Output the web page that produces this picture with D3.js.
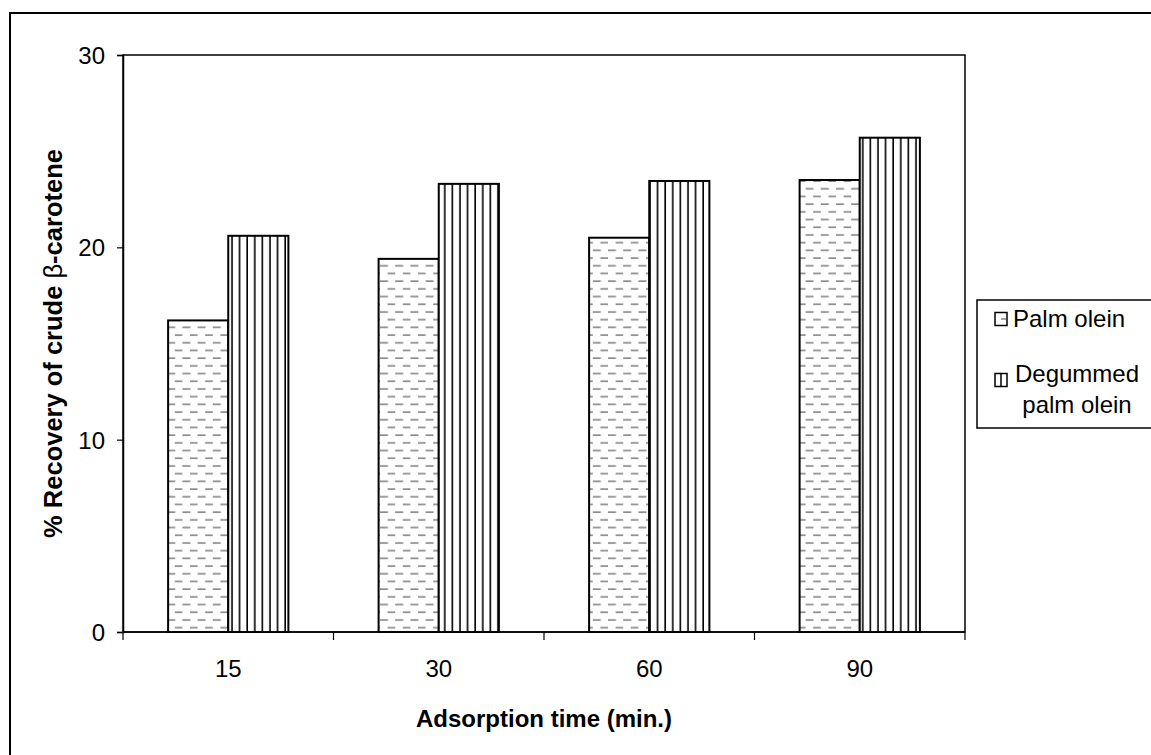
<!DOCTYPE html>
<html><head><meta charset="utf-8">
<script src="https://cdn.jsdelivr.net/npm/d3@7"></script>
<style>body{margin:0;background:#fff}svg{display:block}text{font-family:"Liberation Sans",Arial,sans-serif}</style>
</head><body><svg id="c" width="1151" height="755"></svg>
<script>
const categories = ["15", "30", "60", "90"];
const seriesNames = ["Palm olein", "Degummed palm olein"];
const palmOlein = [16.2, 19.4, 20.5, 23.5];
const degummed = [20.6, 23.3, 23.45, 25.7];
const yTicks = [0, 10, 20, 30];

const svg = d3.select("#c");
const L = 123, R = 965, T = 55, B = 632;

const defs = svg.append("defs");
const pDash = defs.append("pattern").attr("id","dash").attr("patternUnits","userSpaceOnUse")
  .attr("width",15.2).attr("height",15.4);
pDash.append("rect").attr("width",15.2).attr("height",15.4).attr("fill","#fff");
pDash.append("line").attr("x1",0).attr("x2",8).attr("y1",4).attr("y2",4).attr("stroke","#8c8c8c").attr("stroke-width",1.7);
pDash.append("line").attr("x1",7.6).attr("x2",15.6).attr("y1",11.7).attr("y2",11.7).attr("stroke","#8c8c8c").attr("stroke-width",1.7);
const pVert = defs.append("pattern").attr("id","vert").attr("patternUnits","userSpaceOnUse")
  .attr("width",7.6).attr("height",10).attr("x",1);
pVert.append("rect").attr("width",7.6).attr("height",10).attr("fill","#fff");
pVert.append("line").attr("x1",3).attr("x2",3).attr("y1",0).attr("y2",10).attr("stroke","#000").attr("stroke-width",1.6);

// outer frame
svg.append("rect").attr("x",10).attr("y",13).attr("width",1200).attr("height",800)
  .attr("fill","none").attr("stroke","#000").attr("stroke-width",2);

const x = d3.scaleBand().domain(categories).range([L,R]).paddingInner(0).paddingOuter(0);
const bw = x.bandwidth()/3.5;
const y = d3.scaleLinear().domain([0,30]).range([B,T]);

// plot border
svg.append("rect").attr("x",L).attr("y",T).attr("width",R-L).attr("height",B-T)
  .attr("fill","none").attr("stroke","#000").attr("stroke-width",1.5);

const series = [{vals: palmOlein, fill:"url(#dash)"}, {vals: degummed, fill:"url(#vert)"}];
series.forEach((s,si)=>{
  svg.append("g").selectAll("rect").data(categories).join("rect")
    .attr("x", c => x(c) + x.bandwidth()/2 - bw + si*bw)
    .attr("y", (c,i) => y(s.vals[i]))
    .attr("width", bw)
    .attr("height", (c,i) => B - y(s.vals[i]))
    .attr("fill", s.fill).attr("stroke","#000").attr("stroke-width",2);
});

// y axis
const ya = svg.append("g").attr("transform",`translate(${L},0)`)
  .call(d3.axisLeft(y).tickValues(yTicks).tickSize(6).tickPadding(12));
ya.select(".domain").attr("stroke","#000").attr("stroke-width",1.5);
ya.selectAll(".tick line").attr("stroke","#000").attr("stroke-width",1.2);
ya.selectAll("text").attr("font-size",24).attr("fill","#000").attr("font-family","Liberation Sans, Arial").attr("dy","0.36em");

// x axis with ticks at category boundaries
const xa = svg.append("g").attr("transform",`translate(0,${B})`);
xa.append("line").attr("x1",L).attr("x2",R).attr("stroke","#000").attr("stroke-width",1.5);
const bounds = categories.map(c => x(c)).concat([R]);
xa.selectAll("line.tk").data(bounds).join("line").attr("class","tk")
  .attr("x1",d=>d).attr("x2",d=>d).attr("y1",0).attr("y2",8).attr("stroke","#000").attr("stroke-width",1.2);
xa.selectAll("text").data(categories).join("text")
  .attr("x", c => x(c)+x.bandwidth()/2).attr("y",45)
  .attr("text-anchor","middle").attr("font-size",24).text(c=>c);

// titles
svg.append("text").attr("x",(L+R)/2).attr("y",727).attr("text-anchor","middle")
  .attr("font-size",24).attr("font-weight","bold").text("Adsorption time (min.)");
const yt = svg.append("text").attr("transform",`translate(62,${(T+B)/2}) rotate(-90)`)
  .attr("text-anchor","middle").attr("font-size",25.5).attr("font-weight","bold");
yt.append("tspan").text("% Recovery of crude ");
yt.append("tspan").attr("font-weight","normal").text("β");
yt.append("tspan").text("-carotene");

// legend
const lg = svg.append("g");
lg.append("rect").attr("x",977).attr("y",300).attr("width",200).attr("height",128)
  .attr("fill","#fff").attr("stroke","#000").attr("stroke-width",1.5);
const legY = [319, 380];
seriesNames.forEach((n,i)=>{
  lg.append("rect").attr("x",995).attr("y",legY[i]-6.5).attr("width",12).attr("height",13)
    .attr("fill","#fff").attr("stroke","#000").attr("stroke-width",1.5);
  if(i===0){
    lg.append("line").attr("x1",1001).attr("x2",1006).attr("y1",legY[i]).attr("y2",legY[i]).attr("stroke","#666").attr("stroke-width",1.2);
  } else {
    lg.append("line").attr("x1",1001).attr("x2",1001).attr("y1",legY[i]-6.5).attr("y2",legY[i]+6.5).attr("stroke","#000").attr("stroke-width",1.5);
  }
});
lg.append("text").attr("x",1013).attr("y",327).attr("font-size",24).text("Palm olein");
const t2 = lg.append("text").attr("font-size",24).attr("text-anchor","middle");
t2.append("tspan").attr("x",1077).attr("y",382).text("Degummed");
t2.append("tspan").attr("x",1077).attr("y",413).text("palm olein");
</script></body></html>
